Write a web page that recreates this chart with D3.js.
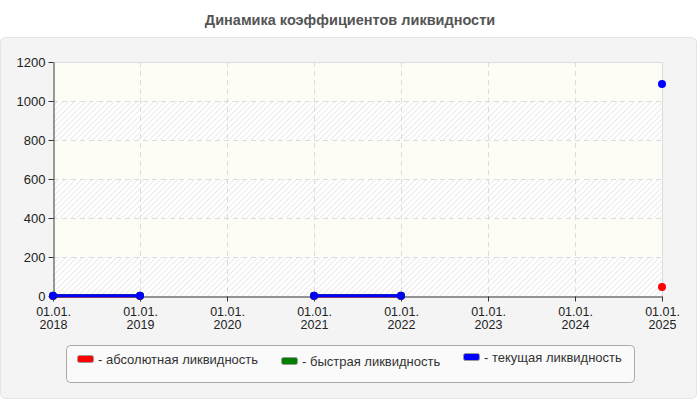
<!DOCTYPE html>
<html lang="ru">
<head>
<meta charset="UTF-8">
<title>Динамика коэффициентов ликвидности</title>
<script src="https://d3js.org/d3.v7.min.js"></script>
<style>
    body { margin: 0; background: #fff; font-family: "Liberation Sans", Arial, sans-serif; }
</style>
</head>
<body>
<div id="chart"></div>
<script>
// data
const years = ["2018", "2019", "2020", "2021", "2022", "2023", "2024", "2025"];
const absoluteLiq = [0.4, 0.4, null, 0.4, 0.4, null, null, 46];
const quickLiq = [0.8, 0.8, null, 0.8, 0.8, null, null, null];
const currentLiq = [1.2, 1.2, null, 1.2, 1.2, null, null, 1087];
const yTicks = [0, 200, 400, 600, 800, 1000, 1200];

const series = [
    { name: "абсолютная ликвидность", values: absoluteLiq, color: "#ff0000" },
    { name: "быстрая ликвидность", values: quickLiq, color: "#008000" },
    { name: "текущая ликвидность", values: currentLiq, color: "#0000ff" }
];

const W = 700, H = 400;
const plot = { left: 53, right: 662, top: 62, bottom: 296 };
const font = "'Liberation Sans', Arial, sans-serif";

const svg = d3.select("#chart").append("svg")
    .attr("width", W)
    .attr("height", H)
    .style("font-family", font);

// hatch pattern
const defs = svg.append("defs");
const pat = defs.append("pattern")
    .attr("id", "hatch")
    .attr("patternUnits", "userSpaceOnUse")
    .attr("width", 4).attr("height", 4)
    .attr("patternTransform", "rotate(45)");
pat.append("rect").attr("width", 4).attr("height", 4).attr("fill", "#ffffff");
pat.append("line").attr("x1", 0).attr("y1", 0).attr("x2", 0).attr("y2", 4)
    .attr("stroke", "#e4e4e4").attr("stroke-width", 1.5);

svg.append("text")
    .attr("x", W / 2).attr("y", 25)
    .attr("text-anchor", "middle")
    .attr("font-size", 14.5).attr("font-weight", "bold")
    .attr("fill", "#555")
    .text("Динамика коэффициентов ликвидности");

// outer panel
svg.append("rect")
    .attr("x", 0.5).attr("y", 37.5)
    .attr("width", 696).attr("height", 361)
    .attr("rx", 5)
    .attr("fill", "#f4f4f4")
    .attr("stroke", "#e4e4e4");

const x = d3.scalePoint().domain(years).range([plot.left, plot.right]);
const y = d3.scaleLinear().domain([0, 1200]).range([plot.bottom, plot.top]);

// bands
const bands = yTicks.slice(0, -1).map((t, i) => ({ lo: t, hi: yTicks[i + 1], i }));
svg.append("g").selectAll("rect").data(bands).join("rect")
    .attr("x", plot.left).attr("width", plot.right - plot.left)
    .attr("y", d => y(d.hi)).attr("height", d => y(d.lo) - y(d.hi))
    .attr("fill", d => d.i % 2 === 0 ? "url(#hatch)" : "#fdfdf6");

// grid
svg.append("g").selectAll("line").data(yTicks.slice(1)).join("line")
    .attr("x1", plot.left).attr("x2", plot.right)
    .attr("y1", d => y(d) + 0.5).attr("y2", d => y(d) + 0.5)
    .attr("stroke", "#dcdcdc")
    .attr("stroke-dasharray", d => d === 1200 ? null : "5,4");
svg.append("g").selectAll("line").data(years.slice(1)).join("line")
    .attr("x1", d => x(d) + 0.5).attr("x2", d => x(d) + 0.5)
    .attr("y1", plot.top).attr("y2", plot.bottom)
    .attr("stroke", "#dcdcdc")
    .attr("stroke-dasharray", d => d === years[years.length - 1] ? null : "5,4");

// axes
const yAxis = svg.append("g")
    .attr("transform", `translate(${plot.left + 0.5},0)`)
    .call(d3.axisLeft(y).tickValues(yTicks).tickFormat(d3.format("d"))
        .tickSize(5).tickSizeOuter(0).tickPadding(3));
const xAxis = svg.append("g")
    .attr("transform", `translate(0,${plot.bottom + 0.5})`)
    .call(d3.axisBottom(x).tickSize(5).tickSizeOuter(0).tickFormat(""));
[yAxis, xAxis].forEach(a => {
    a.select(".domain").attr("stroke", "#333");
    a.selectAll(".tick line").attr("stroke", "#333");
});
yAxis.selectAll("text").attr("font-size", 13).attr("fill", "#222")
    .attr("font-family", font);
xAxis.selectAll(".tick text").remove();
xAxis.selectAll(".tick").each(function (d) {
    const g = d3.select(this);
    g.append("text")
        .attr("text-anchor", "middle").attr("y", 19)
        .attr("font-size", 12.5).attr("fill", "#222").attr("font-family", font)
        .text("01.01.");
    g.append("text")
        .attr("text-anchor", "middle").attr("y", 32)
        .attr("font-size", 12.5).attr("fill", "#222").attr("font-family", font)
        .text(d);
});

// series
const line = d3.line()
    .defined(d => d != null)
    .x((d, i) => x(years[i]))
    .y(d => y(d));

series.forEach(s => {
    svg.append("path")
        .datum(s.values)
        .attr("fill", "none")
        .attr("stroke", s.color)
        .attr("stroke-width", 3)
        .attr("d", line);
    svg.append("g").selectAll("circle")
        .data(s.values.map((v, i) => ({ v, year: years[i] })).filter(d => d.v != null))
        .join("circle")
        .attr("cx", d => x(d.year))
        .attr("cy", d => y(d.v))
        .attr("r", 4)
        .attr("fill", s.color);
});

// legend
svg.append("rect")
    .attr("x", 66.5).attr("y", 345.5)
    .attr("width", 568).attr("height", 37)
    .attr("rx", 4)
    .attr("fill", "#fafafa")
    .attr("stroke", "#aaa");

const legendX = [77, 281, 463];
const legendY = [359, 361, 357];
const lg = svg.append("g").selectAll("g").data(series).join("g")
    .attr("transform", (d, i) => `translate(${legendX[i]},${legendY[i]})`);
lg.append("rect")
    .attr("x", 0.5).attr("y", -3.5)
    .attr("width", 16).attr("height", 7)
    .attr("rx", 2)
    .attr("fill", d => d.color)
    .attr("stroke", "#999");
lg.append("text")
    .attr("x", 21).attr("y", 5)
    .attr("font-size", 13).attr("fill", "#333")
    .text(d => "- " + d.name);
</script>
</body>
</html>
